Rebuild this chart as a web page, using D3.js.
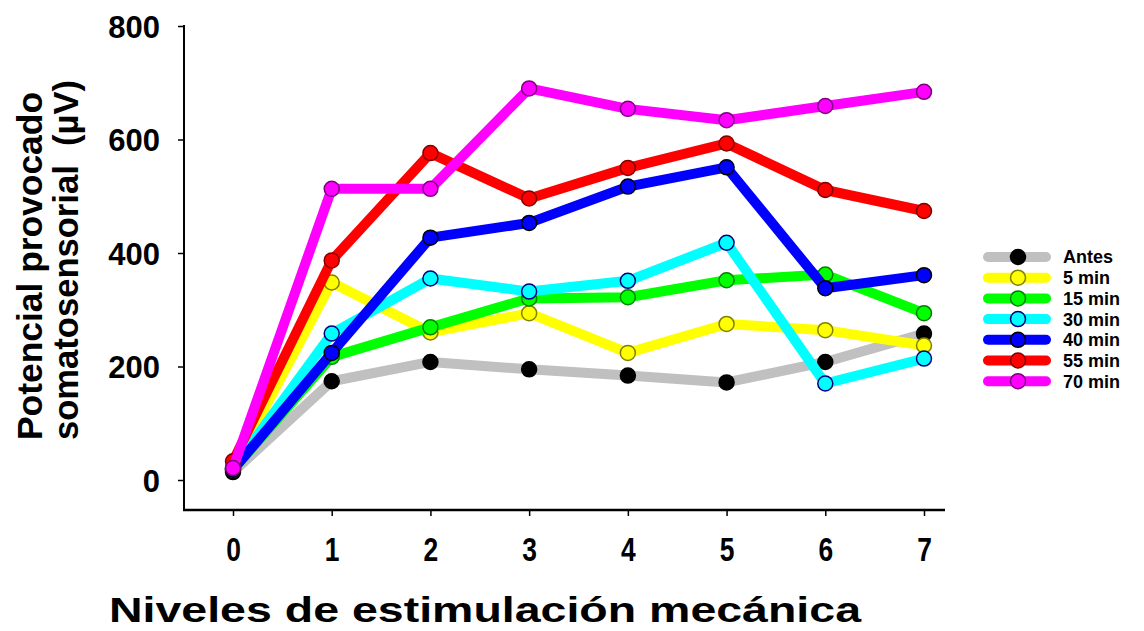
<!DOCTYPE html>
<html>
<head>
<meta charset="utf-8">
<script src="https://cdn.jsdelivr.net/npm/d3@7"></script>
<style>
  html, body { margin: 0; padding: 0; background: #fff; }
  svg { display: block; }
  text { font-family: "Liberation Sans", Arial, sans-serif; font-weight: bold; fill: #000; }
</style>
</head>
<body>
<svg id="chart" width="1144" height="631"></svg>
<script>
// Stimulation levels on the x axis
const levels = [0, 1, 2, 3, 4, 5, 6, 7];
const yTicks = [0, 200, 400, 600, 800];

// Evoked potential (µV) per time point
const antes  = [14, 174, 208, 195, 184, 172, 208, 258];
const min5   = [22, 348, 260, 294, 224, 275, 264, 237];
const min15  = [18, 217, 269, 320, 322, 352, 362, 294];
const min30  = [20, 258, 355, 332, 351, 418, 170, 214];
const min40  = [18, 224, 427, 453, 517, 551, 338, 361];
const min55  = [33, 387, 576, 496, 550, 593, 511, 474];
const min70  = [21, 513, 513, 690, 654, 634, 659, 684];

const seriesNames = ["Antes", "5 min", "15 min", "30 min", "40 min", "55 min", "70 min"];
const seriesValues = [antes, min5, min15, min30, min40, min55, min70];
const lineColors   = ["#c0c0c0", "#ffff00", "#00ff00", "#00ffff", "#0000ff", "#ff0000", "#ff00ff"];
const markerFill   = ["#000000", "#ffff00", "#00ff00", "#00ffff", "#0000ff", "#ff0000", "#ff00ff"];
const markerStroke = ["#000000", "#808000", "#008000", "#000080", "#000000", "#800000", "#800080"];

const svg = d3.select("#chart");

const x = d3.scaleLinear().domain([0, 7]).range([233, 924]);
const y = d3.scaleLinear().domain([0, 800]).range([480, 26]);

// Y axis (left spine runs down to the offset x axis)
const yAxis = svg.append("g").attr("transform", "translate(184,0)")
  .call(d3.axisLeft(y).tickValues(yTicks).tickSize(6).tickPadding(18).tickSizeOuter(0));
yAxis.select(".domain").remove();
yAxis.selectAll(".tick line").attr("stroke", "#000").attr("stroke-width", 1.5);
yAxis.selectAll(".tick text").style("font-size", "31px").attr("dy", "0.36em");
svg.append("line").attr("x1", 184).attr("x2", 184).attr("y1", 25).attr("y2", 511)
  .attr("stroke", "#000").attr("stroke-width", 2);

// X axis
const xAxis = svg.append("g").attr("transform", "translate(0,510)")
  .call(d3.axisBottom(x).tickValues(levels).tickFormat(d3.format("d")).tickSize(6).tickPadding(22).tickSizeOuter(0));
xAxis.select(".domain").remove();
xAxis.selectAll(".tick line").attr("stroke", "#000").attr("stroke-width", 1.5);
xAxis.selectAll(".tick text").style("font-size", "33px").attr("dy", "0.71em")
  .attr("transform", "scale(0.8,1)");
svg.append("line").attr("x1", 183).attr("x2", 945).attr("y1", 510).attr("y2", 510)
  .attr("stroke", "#000").attr("stroke-width", 2.5);

// Axis titles
svg.append("text").attr("x", 485).attr("y", 622).attr("text-anchor", "middle")
  .style("font-size", "35px")
  .attr("textLength", 752).attr("lengthAdjust", "spacingAndGlyphs")
  .text("Niveles de estimulación mecánica");

svg.append("text").attr("transform", "translate(42,266) rotate(-90)")
  .attr("text-anchor", "middle").style("font-size", "35px")
  .attr("textLength", 348).attr("lengthAdjust", "spacingAndGlyphs")
  .text("Potencial provocado");
svg.append("text").attr("transform", "translate(78,260) rotate(-90)")
  .attr("text-anchor", "middle").style("font-size", "35px").style("white-space", "pre")
  .attr("textLength", 360).attr("lengthAdjust", "spacingAndGlyphs")
  .text("somatosensorial  (µV)");

// Series: line then markers, drawn in legend order
const line = d3.line().x((d, i) => x(levels[i])).y(d => y(d));
const plot = svg.append("g");
seriesValues.forEach((vals, s) => {
  const g = plot.append("g");
  g.append("path").datum(vals).attr("d", line)
    .attr("fill", "none").attr("stroke", lineColors[s]).attr("stroke-width", 10)
    .attr("stroke-linejoin", "round").attr("stroke-linecap", "butt");
  g.selectAll("circle").data(vals).join("circle")
    .attr("cx", (d, i) => x(levels[i])).attr("cy", d => y(d)).attr("r", 7.5)
    .attr("fill", markerFill[s]).attr("stroke", markerStroke[s]).attr("stroke-width", 1.5);
});

// Legend
const legend = svg.append("g");
seriesNames.forEach((name, s) => {
  const ly = 257 + s * 20.7;
  legend.append("line").attr("x1", 988).attr("x2", 1046).attr("y1", ly).attr("y2", ly)
    .attr("stroke", lineColors[s]).attr("stroke-width", 10).attr("stroke-linecap", "round");
  legend.append("circle").attr("cx", 1018).attr("cy", ly).attr("r", 7.5)
    .attr("fill", markerFill[s]).attr("stroke", markerStroke[s]).attr("stroke-width", 1.5);
  legend.append("text").attr("x", 1063).attr("y", ly).attr("dy", "0.36em")
    .style("font-size", "18px").text(name);
});
</script>
</body>
</html>
